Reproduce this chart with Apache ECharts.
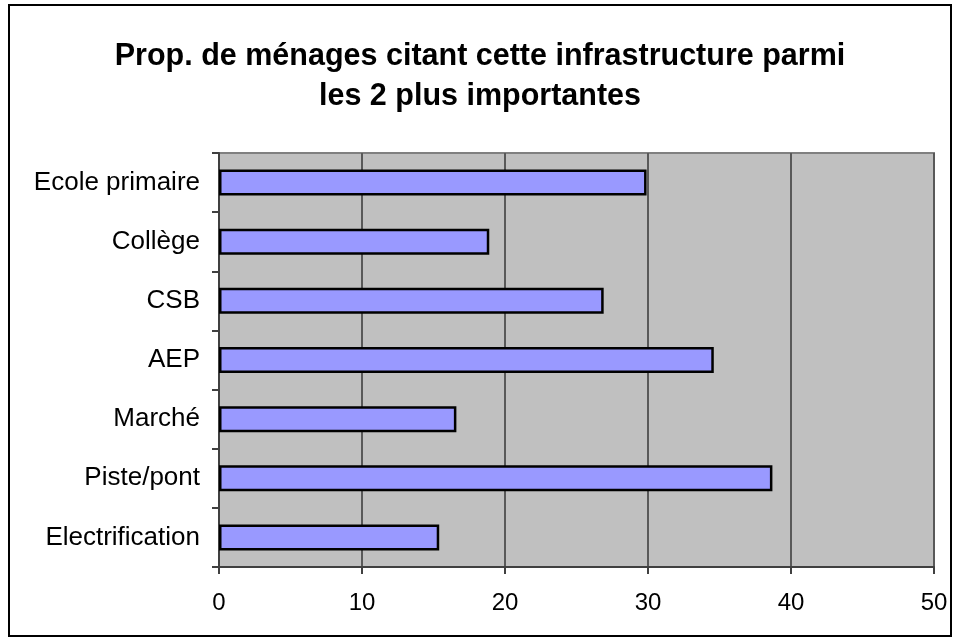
<!DOCTYPE html>
<html>
<head>
<meta charset="utf-8">
<script src="https://cdn.jsdelivr.net/npm/echarts@6/dist/echarts.min.js"></script>
<style>
    html, body { margin: 0; padding: 0; background: #fff; }
    #main { width: 960px; height: 644px; }
</style>
</head>
<body>
<div id="main"></div>
<script>
// categories, top to bottom
var categories = ['Ecole primaire', 'Collège', 'CSB', 'AEP', 'Marché', 'Piste/pont', 'Electrification'];
// proportion of households (%)
var values = [29.9, 18.9, 26.9, 34.6, 16.6, 38.7, 15.4];
var xTicks = [0, 10, 20, 30, 40, 50];

var myChart = echarts.init(document.getElementById('main'));

var option = {
    backgroundColor: '#ffffff',
    animation: false,
    title: {
        text: 'Prop. de ménages citant cette infrastructure parmi\nles 2 plus importantes',
        left: 'center',
        top: 32,
        textStyle: {
            fontFamily: 'Liberation Sans, Arial, sans-serif',
            fontWeight: 'bold',
            fontSize: 30.5,
            lineHeight: 40,
            color: '#000'
        }
    },
    // outer chart border
    graphic: [{
        type: 'rect',
        shape: { x: 9, y: 5, width: 942, height: 631 },
        style: { fill: 'none', stroke: '#000', lineWidth: 2 },
        z: 100
    }],
    grid: {
        left: 219,
        right: 26,
        top: 153,
        bottom: 77,
        show: true,
        backgroundColor: '#c0c0c0',
        borderColor: '#808080',
        borderWidth: 2
    },
    xAxis: {
        type: 'value',
        min: xTicks[0],
        max: xTicks[xTicks.length - 1],
        interval: 10,
        axisLine: { show: true, lineStyle: { color: '#404040', width: 2 } },
        axisTick: { show: true, length: 7, lineStyle: { color: '#404040', width: 2 } },
        axisLabel: {
            margin: 24,
            fontFamily: 'Liberation Sans, Arial, sans-serif',
            fontSize: 24,
            color: '#000'
        },
        splitLine: { show: true, lineStyle: { color: '#595959', width: 2 } }
    },
    yAxis: {
        type: 'category',
        data: categories,
        inverse: true,
        axisLine: { show: true, lineStyle: { color: '#404040', width: 2 } },
        axisTick: { show: true, length: 7, lineStyle: { color: '#404040', width: 2 } },
        axisLabel: {
            margin: 19,
            fontFamily: 'Liberation Sans, Arial, sans-serif',
            fontSize: 26,
            color: '#000'
        }
    },
    series: [{
        type: 'bar',
        data: values,
        barWidth: 26,
        itemStyle: {
            color: '#9999ff',
            borderColor: '#000',
            borderWidth: 2.5
        }
    }]
};

myChart.setOption(option);
</script>
</body>
</html>
